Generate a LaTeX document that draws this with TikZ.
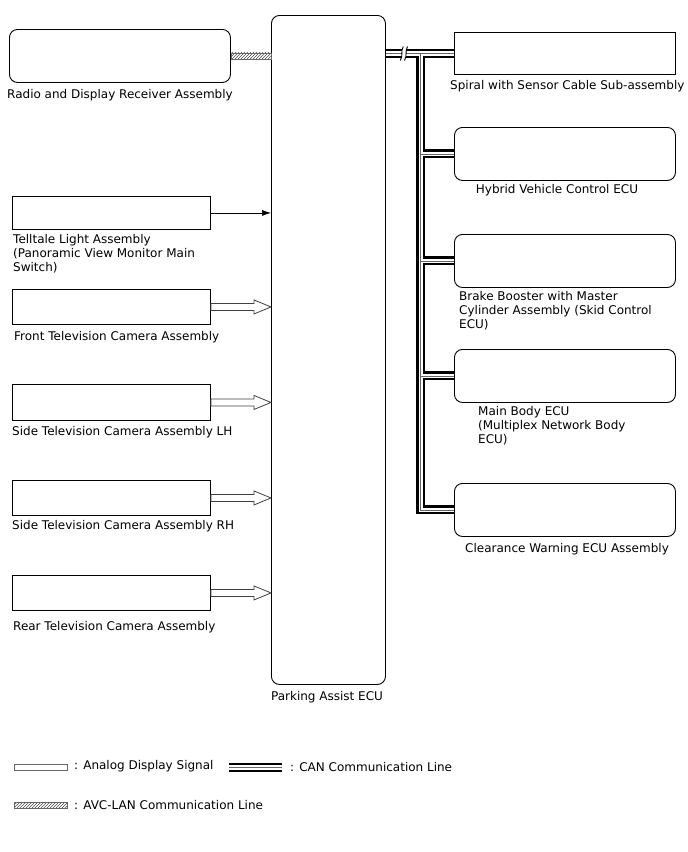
\documentclass[tikz,border=0pt]{standalone}
\usepackage{fontspec}
\setmainfont{DejaVu Sans}
\usetikzlibrary{calc,patterns,arrows.meta}
\begin{document}
\begin{tikzpicture}[x=1pt,y=-1pt,
  every node/.style={font=\fontsize{12}{14}\selectfont},
  rbox/.style={draw,line width=0.9pt,rounded corners=8pt,anchor=north west,inner sep=0pt},
  sbox/.style={draw,line width=0.9pt,anchor=north west,inner sep=0pt},
  lbl/.style={inner sep=0pt,align=left},
  canout/.style={line width=9pt,black},
  canmid/.style={line width=4.8pt,white},
  cancore/.style={line width=0.9pt,black!60},
  analog/.style={draw=black!75,fill=white,line width=0.8pt},
  avc/.style={draw=black!60,line width=0.6pt,pattern=north east lines,pattern color=black!70}]
\useasboundingbox (0,0) rectangle (688,852);
% boxes
\node[rbox,minimum width=221pt,minimum height=53pt] (radio) at (9,29) {};
\node[rbox,minimum width=114pt,minimum height=669pt] (ecu) at (271,15) {};
\node[sbox,minimum width=198pt,minimum height=33pt] (tt) at (12,196) {};
\node[sbox,minimum width=198pt,minimum height=35pt] (front) at (12,289) {};
\node[sbox,minimum width=198pt,minimum height=36pt] (lh) at (12,384) {};
\node[sbox,minimum width=198pt,minimum height=35pt] (rh) at (12,480) {};
\node[sbox,minimum width=198pt,minimum height=35pt] (rear) at (12,575) {};
\node[sbox,minimum width=221pt,minimum height=42pt] (spiral) at (454,32) {};
\node[rbox,minimum width=221pt,minimum height=53pt] (hybrid) at (454,127) {};
\node[rbox,minimum width=221pt,minimum height=53pt] (brake) at (454,234) {};
\node[rbox,minimum width=221pt,minimum height=53pt] (body) at (454,349) {};
\node[rbox,minimum width=221pt,minimum height=53pt] (clear) at (454,483) {};
% labels
\node[lbl,anchor=west] (lradio) at (7,95) {Radio and Display Receiver Assembly};
\node[lbl,anchor=north] (lecu) at (327,691) {Parking Assist ECU};
\node[lbl,anchor=north west] (ltt) at (13,234) {Telltale Light Assembly\\(Panoramic View Monitor Main\\Switch)};
\node[lbl,anchor=west] (lfront) at (14,337) {Front Television Camera Assembly};
\node[lbl,anchor=west] (llh) at (12,432) {Side Television Camera Assembly LH};
\node[lbl,anchor=west] (lrh) at (12,526) {Side Television Camera Assembly RH};
\node[lbl,anchor=west] (lrear) at (13,627) {Rear Television Camera Assembly};
\node[lbl,anchor=west] (lspiral) at (450,86) {Spiral with Sensor Cable Sub-assembly};
\node[lbl,anchor=north] (lhybrid) at (557,184) {Hybrid Vehicle Control ECU};
\node[lbl,anchor=north west] (lbrake) at (459,291) {Brake Booster with Master\\Cylinder Assembly (Skid Control\\ECU)};
\node[lbl,anchor=north west] (lbody) at (478,406) {Main Body ECU\\(Multiplex Network Body\\ECU)};
\node[lbl,anchor=north] (lclear) at (567,543) {Clearance Warning ECU Assembly};
% AVC-LAN
\path[avc] ($(radio.east)+(0,-3)$) rectangle ($(radio.east -| ecu.west)+(0,3)$);
% telltale
\draw[line width=0.7pt,-{Latex[length=9pt,width=6pt]}] (tt.east) -- (tt.east -| ecu.west);
% analog arrows
\foreach \s in {front,lh,rh,rear}{
  \coordinate (A) at (\s.east);
  \coordinate (B) at (\s.east -| ecu.west);
  \path[analog] ($(A)+(0,-3.5)$) -- ($(B)+(-17,-3.5)$) -- ($(B)+(-17,-7)$) -- (B)
     -- ($(B)+(-17,7)$) -- ($(B)+(-17,3.5)$) -- ($(A)+(0,3.5)$) -- cycle;
}
% CAN bus
\coordinate (cs) at (spiral.west -| ecu.east);
\coordinate (vt) at ($(spiral.west -| ecu.east)+(35,0)$);
\coordinate (vb) at (vt |- clear.west);
\foreach \st in {canout,canmid,cancore}{
  \draw[\st] (cs) -- (spiral.west);
  \draw[\st] (vt) -- (vb) -- (clear.west);
  \draw[\st] (vt |- hybrid.west) -- (hybrid.west);
  \draw[\st] (vt |- brake.west) -- (brake.west);
  \draw[\st] (vt |- body.west) -- (body.west);
}
% break mark
\coordinate (bk) at ($(cs)+(18,0)$);
\fill[white] ($(bk)+(-1.6,-6)$) rectangle ($(bk)+(1.6,6)$);
\draw[line width=0.9pt] ($(bk)+(-3.6,7)$) .. controls ($(bk)+(-0.5,2)$) and ($(bk)+(-3.5,-2)$) .. ($(bk)+(-0.6,-7)$);
\draw[line width=0.9pt] ($(bk)+(0.6,7)$) .. controls ($(bk)+(3.7,2)$) and ($(bk)+(0.7,-2)$) .. ($(bk)+(3.6,-7)$);
% legend
\coordinate (la1) at (14,767.5);
\coordinate (la2) at (67,767.5);
\path[analog,draw=black!60] ($(la1)+(0,-3)$) rectangle ($(la2)+(0,3)$);
\node[lbl,anchor=west] (lan) at (74,766) {: Analog Display Signal};
\coordinate (lc1) at (229,767.5);
\coordinate (lc2) at (282,767.5);
\foreach \st in {canout,canmid,cancore}{\draw[\st] (lc1) -- (lc2);}
\node[lbl,anchor=west] (lcan) at (290,767) {: CAN Communication Line};
\coordinate (lv1) at (14,805);
\coordinate (lv2) at (67,805);
\path[avc] ($(lv1)+(0,-3)$) rectangle ($(lv2)+(0,3)$);
\node[lbl,anchor=west] (lavc) at (74,805) {: AVC-LAN Communication Line};
\end{tikzpicture}
\end{document}
